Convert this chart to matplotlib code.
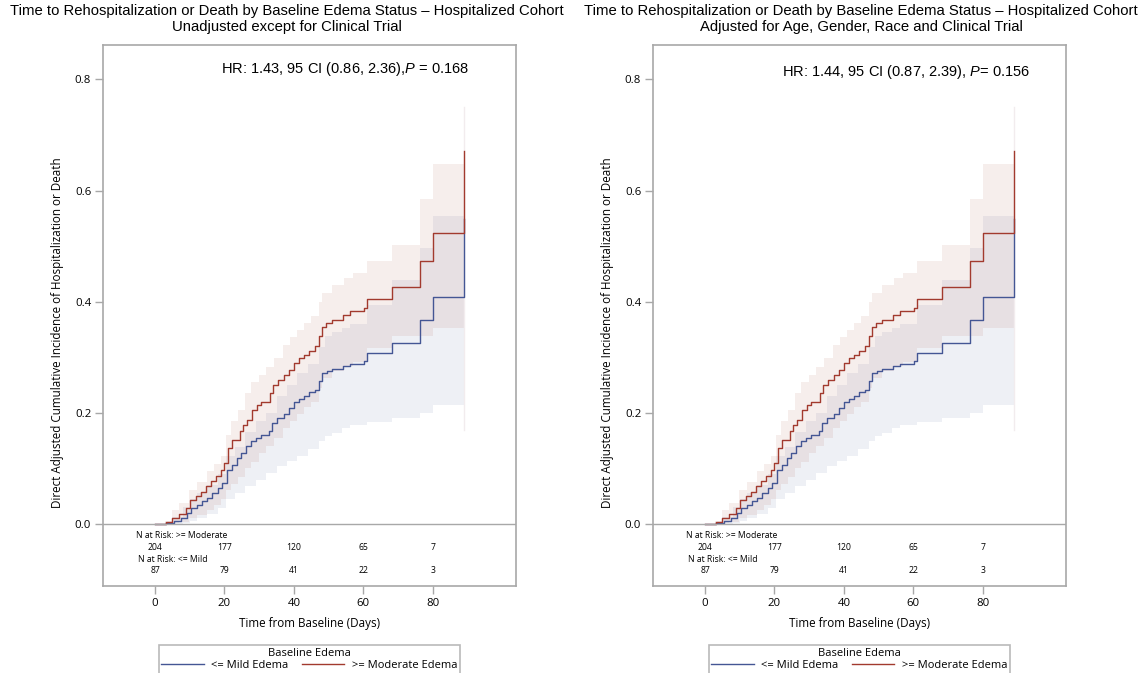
import matplotlib
matplotlib.use("Agg")
import matplotlib.pyplot as plt
from matplotlib.lines import Line2D

plt.rcParams['mathtext.fontset'] = 'custom'
plt.rcParams['mathtext.rm'] = 'Liberation Sans'
plt.rcParams['mathtext.it'] = 'Liberation Sans:italic'

# ---------------- data ----------------
titles = ["Time to Rehospitalization or Death by Baseline Edema Status \u2013 Hospitalized Cohort\nUnadjusted except for Clinical Trial",
          "Time to Rehospitalization or Death by Baseline Edema Status \u2013 Hospitalized Cohort\nAdjusted for Age, Gender, Race and Clinical Trial"]
hr_texts = ["HR: 1.43, 95 CI (0.86, 2.36),$\\it{P}$ = 0.168",
            "HR: 1.44, 95 CI (0.87, 2.39), $\\it{P}$= 0.156"]

# >= Moderate edema (red) step curve
mod_t = [0, 3.1, 5.0, 6.9, 8.8, 10.1, 11.7, 13.2, 14.6, 16.0, 17.5, 18.9, 19.9, 21.0, 22.3, 24.5,
         25.4, 26.6, 28.0, 29.5, 30.4, 33.1, 34.1, 35.4, 37.1, 38.6, 40.0, 41.4, 42.9, 44.3,
         46.2, 47.2, 48.2, 49.3, 51.0, 54.2, 56.3, 60.2, 61.1, 68.3, 76.3, 80.1, 89.1]
mod_v = [0, 0.003, 0.011, 0.018, 0.029, 0.044, 0.050, 0.057, 0.068, 0.077, 0.086, 0.098, 0.110, 0.137, 0.152, 0.167,
         0.179, 0.188, 0.206, 0.215, 0.219, 0.236, 0.251, 0.260, 0.269, 0.278, 0.289, 0.299, 0.305, 0.312,
         0.321, 0.338, 0.354, 0.362, 0.368, 0.377, 0.383, 0.389, 0.405, 0.426, 0.474, 0.523, 0.671]

# <= Mild edema (blue) step curve
mild_t = [0, 3.1, 5.5, 7.4, 9.3, 10.3, 12.2, 13.6, 15.1, 16.5, 18.0, 19.4, 20.6, 22.3, 23.7, 24.7,
          26.1, 27.5, 29.0, 30.4, 32.8, 33.8, 35.2, 37.1, 38.6, 40.0, 41.4, 42.9, 44.3, 46.0,
          47.2, 48.2, 49.6, 51.0, 54.2, 56.3, 60.2, 61.1, 68.3, 76.3, 80.1, 89.1]
mild_v = [0, 0.002, 0.005, 0.011, 0.020, 0.029, 0.035, 0.041, 0.047, 0.056, 0.065, 0.074, 0.098, 0.107, 0.119, 0.128,
          0.140, 0.149, 0.155, 0.161, 0.167, 0.182, 0.191, 0.198, 0.209, 0.219, 0.225, 0.231, 0.237, 0.242,
          0.257, 0.272, 0.276, 0.279, 0.285, 0.288, 0.293, 0.308, 0.326, 0.368, 0.408, 0.548]

# confidence bands
mod_band_t = [3, 5, 7, 9.8, 12, 15, 17, 19, 20.5, 22, 24, 26, 27.5, 30, 32, 34.2, 37, 39, 41, 43, 45,
              47.2, 48.2, 51, 54.4, 57, 61.1, 68.3, 76.3, 80.1, 89.1]
mod_band_hi = [0.006, 0.025, 0.038, 0.062, 0.075, 0.095, 0.108, 0.122, 0.160, 0.185, 0.205, 0.235, 0.255, 0.268,
               0.283, 0.299, 0.322, 0.337, 0.350, 0.362, 0.375, 0.400, 0.416, 0.431, 0.443, 0.452, 0.473, 0.503,
               0.584, 0.647, 0.647]
mod_band_lo = [0.0, 0.001, 0.004, 0.010, 0.016, 0.026, 0.034, 0.045, 0.062, 0.072, 0.085, 0.100, 0.112, 0.128,
               0.140, 0.155, 0.172, 0.185, 0.198, 0.210, 0.220, 0.245, 0.262, 0.275, 0.285, 0.292, 0.317, 0.338,
               0.338, 0.353, 0.353]

mild_band_t = [3, 5, 8, 10, 12, 15, 18, 20.5, 23, 26, 29, 32, 35, 38, 41, 44, 47.2, 49, 51, 54, 56.3,
               61.1, 68.3, 76.3, 80.1, 89.1]
mild_band_hi = [0.004, 0.012, 0.030, 0.045, 0.055, 0.070, 0.090, 0.122, 0.138, 0.165, 0.185, 0.200, 0.230, 0.250,
                0.272, 0.288, 0.318, 0.338, 0.345, 0.352, 0.360, 0.395, 0.440, 0.497, 0.554, 0.554]
mild_band_lo = [0.0, 0.0, 0.002, 0.006, 0.010, 0.018, 0.028, 0.045, 0.055, 0.068, 0.080, 0.092, 0.104, 0.114,
                0.122, 0.135, 0.150, 0.158, 0.164, 0.172, 0.178, 0.183, 0.190, 0.200, 0.214, 0.214]

last_ci_range = [0.17, 0.75]

risk_times = [0, 20, 40, 60, 80]
risk_moderate = [204, 177, 120, 65, 7]
risk_mild = [87, 79, 41, 22, 3]

x_ticks = [0, 20, 40, 60, 80]
y_ticks = [0.0, 0.2, 0.4, 0.6, 0.8]

BLUE = '#445694'
RED = '#A23A2E'
GRAY = '#A8A8A8'
TFONT = 'Liberation Sans'
SFONT = 'Open Sans'

W, H = 1148, 673
fig = plt.figure(figsize=(W / 100, H / 100), dpi=100)

panel_left_px = [103, 653]
for i in range(2):
    lp = panel_left_px[i]
    ax = fig.add_axes([lp / W, (H - 586) / H, 413 / W, 541 / H])
    ax.set_xlim(-15, 104)
    ax.set_ylim(-0.1115, 0.862)

    ax.fill_between(mild_band_t, mild_band_lo, mild_band_hi, step='post', color=BLUE, alpha=0.085, lw=0)
    ax.fill_between(mod_band_t, mod_band_lo, mod_band_hi, step='post', color=RED, alpha=0.085, lw=0)
    ax.plot([mod_t[-1], mod_t[-1]], last_ci_range, color='#F2ECEE', lw=1.0)
    ax.step(mild_t, mild_v, where='post', color=BLUE, lw=1.0)
    ax.step(mod_t, mod_v, where='post', color=RED, lw=1.0)
    ax.axhline(0, color=GRAY, lw=1.0)

    for s in ax.spines.values():
        s.set_color(GRAY)
        s.set_linewidth(1.2)
    ax.set_xticks(x_ticks)
    ax.set_yticks(y_ticks)
    ax.set_xticklabels([str(t) for t in x_ticks], fontfamily=SFONT, fontsize=8.2)
    ax.set_yticklabels([f"{t:.1f}" for t in y_ticks], fontfamily=SFONT, fontsize=8.2)
    ax.tick_params(axis='both', direction='out', length=5.5, color=GRAY, width=1.0, pad=3)

    # risk table
    ax.text(-5.4, -0.021, "N at Risk: >= Moderate", fontfamily=SFONT, fontsize=6.2, ha='left', va='center')
    ax.text(-5.0, -0.063, "N at Risk: <= Mild", fontfamily=SFONT, fontsize=6.2, ha='left', va='center')
    for t, n in zip(risk_times, risk_moderate):
        ax.text(t, -0.042, str(n), fontfamily=SFONT, fontsize=6.2, ha='center', va='center')
    for t, n in zip(risk_times, risk_mild):
        ax.text(t, -0.083, str(n), fontfamily=SFONT, fontsize=6.2, ha='center', va='center')

    ax.text([18.9, 22.2][i], [0.818, 0.814][i], hr_texts[i], fontfamily=TFONT, fontsize=10.5,
            ha='left', va='center')

    ax.set_xlabel("Time from Baseline (Days)", fontfamily=SFONT, fontsize=8.4, labelpad=6)

    # y label
    fig.text((lp - 45) / W, 1 - 333 / H,
             "Direct Adjusted Cumulative Incidence of Hospitalization or Death",
             rotation=90, fontfamily=SFONT, fontsize=8.4, ha='center', va='center')

    # title
    fig.text((287 + 574 * i) / W, 1 - 4 / H, titles[i], fontfamily=TFONT, fontsize=10.75,
             ha='center', va='top', linespacing=1.2)

    handles = [Line2D([0], [0], color=BLUE, lw=1.0), Line2D([0], [0], color=RED, lw=1.0)]
    leg = ax.legend(handles, ["<= Mild Edema", ">= Moderate Edema"], title="Baseline Edema",
                    loc='upper center', bbox_to_anchor=(0.5, -0.0985), ncol=2, frameon=True,
                    fancybox=False, edgecolor=GRAY, handlelength=3.8, handletextpad=0.7,
                    columnspacing=1.2, borderpad=0.25, labelspacing=0.1,
                    prop={'family': SFONT, 'size': 8}, title_fontproperties={'family': SFONT, 'size': 8})
    leg._legend_box.sep = 1
    leg.get_frame().set_linewidth(1.2)

fig.savefig("out.png", dpi=100)
